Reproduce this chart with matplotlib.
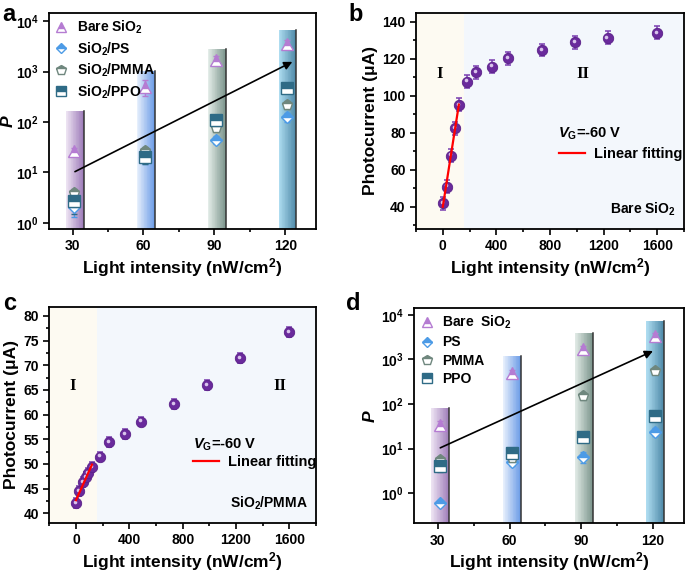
import numpy as np
import matplotlib
matplotlib.use("Agg")
import matplotlib.pyplot as plt
import matplotlib.transforms as mtransforms
from matplotlib.ticker import FixedLocator, FuncFormatter, MultipleLocator, NullLocator
from matplotlib.lines import Line2D

plt.rcParams['font.family'] = ['Liberation Sans', 'DejaVu Sans']
plt.rcParams['font.weight'] = 'bold'
plt.rcParams['axes.labelweight'] = 'bold'
plt.rcParams['mathtext.fontset'] = 'custom'
plt.rcParams['mathtext.rm'] = 'Liberation Sans:bold'
plt.rcParams['mathtext.bf'] = 'Liberation Sans:bold'
plt.rcParams['mathtext.it'] = 'Liberation Sans:bold:italic'
plt.rcParams['mathtext.default'] = 'rm'

# ---- data: panels a and d (P vs light intensity) ----
intensity = [30, 60, 90, 120]
bar_top_a = [165, 1020, 2800, 6800]
bare_a = [27, 500, 1700, 3500]
ps_a = [2.1, 20, 44, 124]
pmma_a = [4.0, 27, 76, 218]
ppo_a = [2.7, 20, 110, 465]
bare_a_err = [4, 170, 300, 700]
ps_a_err = [0.8, 5, 8, 25]
pmma_a_err = [0.8, 5, 12, 40]
ppo_a_err = [1.2, 5, 20, 90]
labels_a = ['Bare SiO$_2$', 'SiO$_2$/PS', 'SiO$_2$/PMMA', 'SiO$_2$/PPO']

bar_top_d = [83, 1200, 4000, 7400]
bare_d = [34, 490, 1700, 3400]
ps_d = [0.6, 5, 6.6, 24]
pmma_d = [5.6, 6, 150, 550]
ppo_d = [4.0, 7.9, 18.6, 54]
bare_d_err = [8, 80, 300, 600]
ps_d_err = [0.08, 1, 1.8, 5]
pmma_d_err = [1.0, 1.2, 25, 80]
ppo_d_err = [1.0, 1.5, 4, 10]
labels_d = ['Bare  SiO$_2$', 'PS', 'PMMA', 'PPO']

# ---- data: panels b and c (photocurrent) ----
light_b = [0, 30, 60, 90, 120, 180, 245, 370, 490, 740, 985, 1230, 1600]
current_b = [41.8, 50.8, 67.6, 82.4, 95.2, 107.7, 112.8, 115.8, 120.3, 124.8, 129.0, 131.5, 134.2]
err_b = [3.5] * len(light_b)

light_c = [0, 25, 55, 75, 90, 120, 180, 245, 370, 490, 735, 985, 1230, 1600]
current_c = [42.1, 44.5, 46.3, 47.4, 48.2, 49.4, 51.5, 54.4, 56.0, 58.6, 62.1, 66.0, 71.5, 76.8]
err_c = [1.0] * len(light_c)

bar_colors = [('#ece2f2', '#9d7bb8'), ('#e6effc', '#6b9be6'),
              ('#e3ece8', '#7d968d'), ('#aedcf0', '#4b87a6')]
marker_styles = [('^', '#b57cd2'), ('D', '#4d9be6'), ('p', '#6f877e'), ('s', '#2f6b86')]

fig = plt.figure(figsize=(6.85, 5.72), dpi=100)


def mix(c0, c1, t):
    a = np.array(matplotlib.colors.to_rgb(c0))
    b = np.array(matplotlib.colors.to_rgb(c1))
    return tuple(a + (b - a) * t)


def style_axes(ax):
    for s in ax.spines.values():
        s.set_linewidth(1.3)
    ax.tick_params(which='both', direction='out', top=False, right=False,
                   width=1.2, labelsize=10)
    ax.tick_params(which='major', length=4)
    ax.tick_params(which='minor', length=2.5)


def p_panel(ax, bar_tops, series, errs, labels, ylim, arrow_end, ylab_x):
    bottom = ylim[0] * 0.5
    for x, top, (c0, c1) in zip(intensity, bar_tops, bar_colors):
        w = 7.5
        edges = np.linspace(x + 1 - w / 2, x + 1 + w / 2, 25)
        for i in range(24):
            ax.bar(edges[i], top - bottom, width=edges[i + 1] - edges[i], bottom=bottom,
                   align='edge', color=mix(c0, c1, i / 23), lw=0, zorder=1)
        ax.plot([edges[-1]] * 2, [bottom, top], color='#333333', lw=1.1, zorder=2)
    handles = []
    xs = [x + 0.8 for x in intensity]
    for vals, e, (m, c), lab in zip(series, errs, marker_styles, labels):
        ms = 8 if m != 'D' else 6.5
        ax.errorbar(xs, vals, yerr=e, fmt='none', ecolor=c, elinewidth=1, capsize=2.5, zorder=3)
        ax.plot(xs, vals, ls='none', marker=m, ms=ms, color=c, mec=c, mew=1,
                fillstyle='top', markerfacecoloralt='white', zorder=4)
        handles.append(Line2D([], [], ls='none', marker=m, ms=ms - 1, color=c, mec=c, mew=1,
                              fillstyle='top', markerfacecoloralt='white'))
    ax.annotate('', xy=arrow_end, xytext=(31, 10.4),
                arrowprops=dict(arrowstyle='-|>', color='black', lw=1.2,
                                mutation_scale=12, shrinkA=0, shrinkB=0), zorder=5)
    ax.set_yscale('log')
    ax.set_ylim(*ylim)
    ax.set_xlim(20, 133)
    ax.xaxis.set_major_locator(FixedLocator(intensity))
    ax.xaxis.set_minor_locator(FixedLocator([45, 75, 105]))
    ax.yaxis.set_major_locator(FixedLocator([1, 10, 100, 1000, 10000]))
    ax.yaxis.set_minor_locator(NullLocator())
    ax.yaxis.set_major_formatter(FuncFormatter(lambda v, p: r'$10^{%d}$' % round(np.log10(v))))
    ax.set_xlabel('Light intensity (nW/cm$^2$)', fontsize=12.5, labelpad=2)
    ax.set_ylabel(r'$\it{P}$', fontsize=12.5)
    ax.yaxis.set_label_coords(ylab_x, 0.5)
    ax.legend(handles, labels, loc='upper left', frameon=False, fontsize=10,
              handletextpad=0.6, labelspacing=0.3, borderaxespad=0.2, borderpad=0.2,
              handlelength=1.0)
    style_axes(ax)


def current_panel(ax, xs, ys, errs, ylim, nfit, vg_xy, leg_anchor, sample, roman_x, roman_y, ylab_x):
    ax.axvspan(-200, 160, color='#fdfaf2', lw=0, zorder=0)
    ax.axvspan(160, 1800, color='#f3f7fc', lw=0, zorder=0)
    ax.errorbar(xs, ys, yerr=errs, fmt='none', ecolor='#7a3fb0', elinewidth=1.1,
                capsize=2.5, capthick=1.1, zorder=3)
    ax.plot(xs, ys, ls='none', marker='o', ms=7.5, color='#6a2a9c', mec='#5a2088',
            mew=0.6, zorder=4)
    hl = mtransforms.offset_copy(ax.transData, fig=fig, x=-0.8, y=0.8, units='points')
    ax.plot(xs, ys, ls='none', marker='o', ms=2.6, color='#d9c4ec', mew=0,
            transform=hl, zorder=5)
    k, b0 = np.polyfit(xs[:nfit], ys[:nfit], 1)
    fx = np.array([xs[0], xs[nfit - 1]])
    ax.plot(fx, k * fx + b0, color='red', lw=1.6, zorder=6)
    ax.text(vg_xy[0], vg_xy[1], r'$\it{V}_{\rm G}$=-60 V', fontsize=10.5, va='center', zorder=7)
    ax.legend([Line2D([], [], color='red', lw=1.6)], ['Linear fitting'], loc='center left',
              bbox_to_anchor=leg_anchor, frameon=False, fontsize=10.5, handlelength=1.8,
              handletextpad=0.6, borderpad=0, borderaxespad=0)
    ax.text(0.97, 0.05, sample, transform=ax.transAxes, ha='right', va='bottom', fontsize=10)
    ax.text(roman_x[0], roman_y, 'I', family='Liberation Serif', fontsize=12, ha='center', va='center')
    ax.text(roman_x[1], roman_y, 'II', family='Liberation Serif', fontsize=12, ha='center', va='center')
    ax.set_xlim(-200, 1800)
    ax.set_ylim(*ylim)
    ax.xaxis.set_major_locator(MultipleLocator(400))
    ax.xaxis.set_minor_locator(MultipleLocator(200))
    ax.set_xlabel('Light intensity (nW/cm$^2$)', fontsize=12.5, labelpad=2)
    ax.set_ylabel('Photocurrent (μA)', fontsize=12.5)
    ax.yaxis.set_label_coords(ylab_x, 0.5)
    style_axes(ax)


ax_a = fig.add_axes([0.0715, 0.5997, 0.3898, 0.3776])
p_panel(ax_a, bar_top_a, [bare_a, ps_a, pmma_a, ppo_a],
        [bare_a_err, ps_a_err, pmma_a_err, ppo_a_err], labels_a, (0.76, 14500), (123, 1560), -0.125)

ax_b = fig.add_axes([0.6073, 0.6002, 0.3912, 0.3776])
current_panel(ax_b, light_b, current_b, err_b, (28, 145), 5, (863, 79.4),
              (0.534, 0.347), 'Bare SiO$_2$', (-20, 1045), 112, -0.14)
ax_b.yaxis.set_major_locator(MultipleLocator(20))
ax_b.yaxis.set_minor_locator(MultipleLocator(10))

ax_c = fig.add_axes([0.072, 0.0862, 0.3893, 0.3771])
current_panel(ax_c, light_c, current_c, err_c, (38.1, 81.8), 6, (875, 53.9),
              (0.538, 0.28), 'SiO$_2$/PMMA', (-27, 1533), 65.7, -0.115)
ax_c.yaxis.set_major_locator(MultipleLocator(5))
ax_c.yaxis.set_minor_locator(MultipleLocator(2.5))

ax_d = fig.add_axes([0.6044, 0.0851, 0.3942, 0.3759])
p_panel(ax_d, bar_top_d, [bare_d, ps_d, pmma_d, ppo_d],
        [bare_d_err, ps_d_err, pmma_d_err, ppo_d_err], labels_d, (0.21, 14100), (120, 1550), -0.135)

for lab, x, y in [('a', 0.004, 0.995), ('b', 0.508, 0.995), ('c', 0.004, 0.49), ('d', 0.505, 0.49)]:
    fig.text(x, y, lab, fontsize=17, fontweight='bold', va='top', ha='left')

fig.savefig('out.png', dpi=100)
